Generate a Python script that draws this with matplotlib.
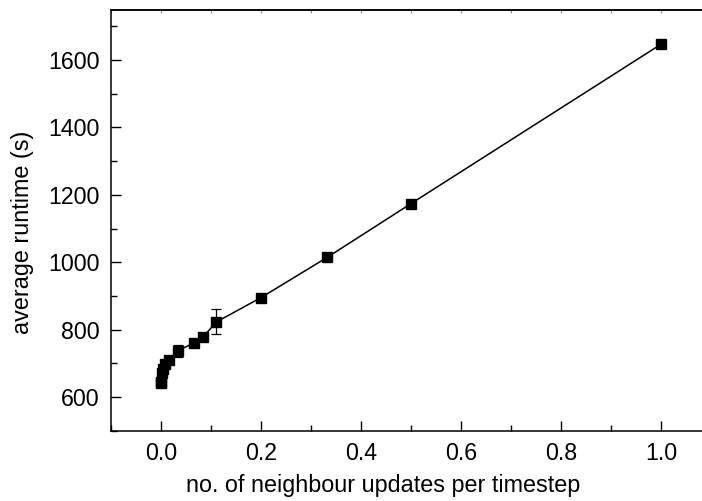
import matplotlib.pyplot as plt
from matplotlib.ticker import MultipleLocator

plt.rcParams['font.family'] = ['Liberation Sans', 'DejaVu Sans']

# neighbour updates per timestep vs average runtime
updates = [0.0005, 0.001, 0.002, 0.004, 0.0083, 0.0167, 0.0333, 0.0667,
           0.0833, 0.111, 0.2, 0.333, 0.5, 1.0]
runtime = [641, 645, 672, 684, 697, 711, 737, 761, 777, 823, 895, 1015, 1174, 1647]
runtime_err = [2, 2, 3, 3, 3, 3, 18, 3, 3, 37, 3, 3, 3, 3]

fig = plt.figure(figsize=(7.02, 5.01), dpi=100)
# axes run a little past the right edge of the picture, as in the original
ax = fig.add_axes([0.1581, 0.1403, 0.8547, 0.8406])

ax.errorbar(updates, runtime, yerr=runtime_err, color='black', linewidth=1.1,
            marker='s', markersize=7, elinewidth=0.9, capsize=3.5, capthick=0.9)

ax.set_xlim(-0.1, 1.1)
ax.set_ylim(500, 1750)
ax.xaxis.set_major_locator(MultipleLocator(0.2))
ax.xaxis.set_minor_locator(MultipleLocator(0.1))
ax.yaxis.set_major_locator(MultipleLocator(200))
ax.yaxis.set_minor_locator(MultipleLocator(100))
ax.xaxis.set_major_formatter(plt.FormatStrFormatter('%.1f'))

ax.tick_params(which='both', direction='in', top=False, right=False, labelsize=16.7, width=1)
ax.tick_params(which='major', length=7, pad=8)
ax.tick_params(which='minor', length=4)
for s in ax.spines.values():
    s.set_linewidth(1.1)
ax.spines['right'].set_visible(False)

# faint short ticks along the top edge
top = ax.secondary_xaxis('top')
top.xaxis.set_major_locator(MultipleLocator(0.2))
top.xaxis.set_minor_locator(MultipleLocator(0.1))
top.tick_params(which='both', direction='in', length=2.5, width=0.8, color='0.55',
                labeltop=False)
top.spines['top'].set_linewidth(1.1)

ax.set_xlabel('no. of neighbour updates per timestep', fontsize=16.8)
ax.set_ylabel('average runtime (s)', fontsize=16.8)
ax.xaxis.set_label_coords(0.453, -0.103)
ax.yaxis.set_label_coords(-0.128, 0.472)

fig.savefig('out.png', dpi=100)
